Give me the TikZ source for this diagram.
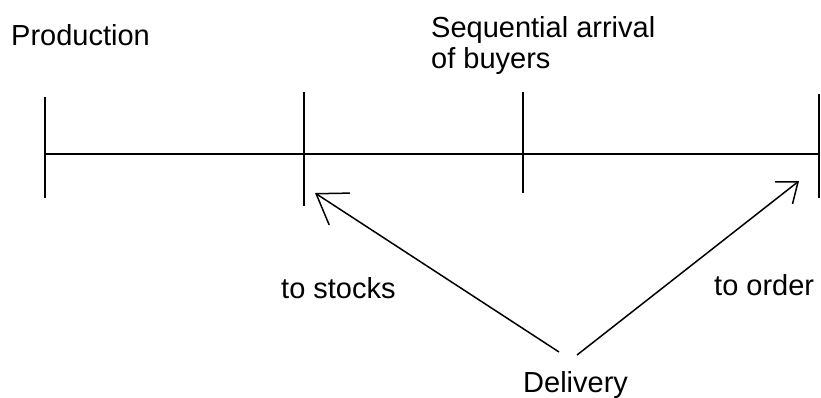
\documentclass[tikz,border=0pt]{standalone}
\usepackage{fontspec}
\setmainfont{Liberation Sans}
\usetikzlibrary{arrows.meta}
\begin{document}
\begin{tikzpicture}[x=1pt,y=-1pt,
  axis/.style={line width=2pt,black},
  txt/.style={font=\fontsize{29}{31}\selectfont,inner sep=0pt,anchor=base west,align=left},
  bigarrow/.style={line width=1.5pt,-{Straight Barb[length=28pt,width=38pt,line width=1.5pt]}},
  smallarrow/.style={line width=1.5pt,-{Straight Barb[length=18pt,width=28pt,line width=1.5pt]}}]
\useasboundingbox (0,0) rectangle (821,397);
% axis ticks
\coordinate (a0) at (45,154);
\coordinate (a3) at (819,154);
\coordinate (t0a) at (45,97);  \coordinate (t0b) at (45,198);
\coordinate (t1a) at (304,92); \coordinate (t1b) at (304,206);
\coordinate (t2a) at (523,92); \coordinate (t2b) at (523,193);
\coordinate (t3a) at (819,94); \coordinate (t3b) at (819,198);
\draw[axis] (a0) -- (a3);
\draw[axis] (t0a) -- (t0b);
\draw[axis] (t1a) -- (t1b);
\draw[axis] (t2a) -- (t2b);
\draw[axis] (t3a) -- (t3b);
% texts
\node[txt] (prod) at (11,45) {Production};
\node[txt] (seq) at (431,68) {Sequential arrival\\of buyers};
\node[txt] (stocks) at (281,298) {to stocks};
\node[txt] (order) at (714,295) {to order};
\node[txt] (deliv) at (523,392) {Delivery};
% arrows
\coordinate (s1) at (559,352);
\coordinate (e1) at (315,193);
\coordinate (s2) at (577,355);
\coordinate (e2) at (799,181);
\draw[bigarrow] (s1) -- (e1);
\draw[smallarrow] (s2) -- (e2);
\end{tikzpicture}
\end{document}
